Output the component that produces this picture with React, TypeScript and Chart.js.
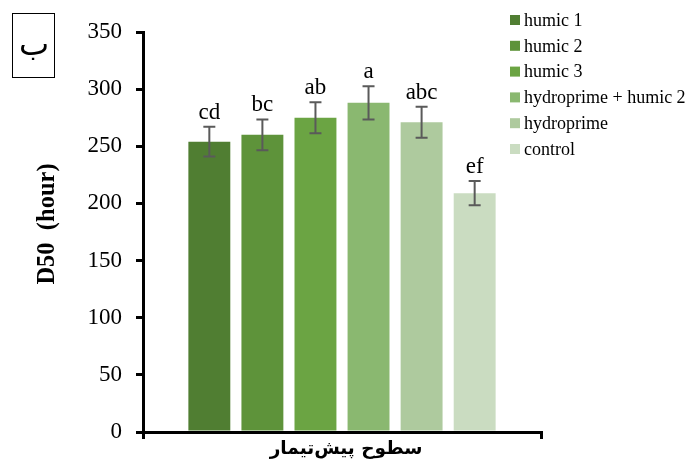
import React, { useEffect, useRef } from "react";
import { Chart, registerables } from "chart.js";

Chart.register(...registerables);

const seriesNames = ["humic 1", "humic 2", "humic 3", "hydroprime + humic 2", "hydroprime", "control"];
const values = [254, 260, 275, 288, 271, 209];
const errors = [13, 13.5, 13.5, 14.5, 13.5, 10.7];
const letters = ["cd", "bc", "ab", "a", "abc", "ef"];
const colors = ["#507E32", "#5E933A", "#6BA443", "#8AB870", "#AECA9E", "#CADCC1"];
const yMin = 0;
const yMax = 350;
const yStep = 50;
const yTitle = "D50  (hour)";
const xTitle = "سطوح پیش‌تیمار";
const panelLabel = "ب";

const overlay = {
  id: "overlay",
  afterDatasetsDraw(chart: any) {
    const ctx = chart.ctx;
    const y = chart.scales.y;
    ctx.save();
    chart.data.datasets.forEach((ds: any, i: number) => {
      const meta = chart.getDatasetMeta(i);
      const bar = meta.data[0];
      if (!bar) return;
      const x = bar.x;
      const v = values[i];
      const e = errors[i];
      const top = y.getPixelForValue(v + e);
      const bot = y.getPixelForValue(v - e);
      ctx.strokeStyle = "#5a5a5a";
      ctx.lineWidth = 2;
      ctx.beginPath();
      ctx.moveTo(x, top);
      ctx.lineTo(x, bot);
      ctx.moveTo(x - 6, top);
      ctx.lineTo(x + 6, top);
      ctx.moveTo(x - 6, bot);
      ctx.lineTo(x + 6, bot);
      ctx.stroke();
      ctx.fillStyle = "#000";
      ctx.font = "23px 'Liberation Serif'";
      ctx.textAlign = "center";
      ctx.textBaseline = "alphabetic";
      ctx.fillText(letters[i], x, top - 8);
    });
    ctx.restore();
  },
  afterDraw(chart: any) {
    const ctx = chart.ctx;
    ctx.save();
    chart.data.datasets.forEach((ds: any, i: number) => {
      const cy = 20 + i * 25.8;
      ctx.fillStyle = ds.backgroundColor;
      ctx.fillRect(510, cy - 5, 10, 10);
      ctx.fillStyle = "#000";
      ctx.font = "18px 'Liberation Serif'";
      ctx.textAlign = "left";
      ctx.textBaseline = "middle";
      ctx.fillText(ds.label, 524, cy + 1);
    });
    ctx.strokeStyle = "#000";
    ctx.lineWidth = 1;
    ctx.strokeRect(12.5, 13.5, 42, 64);
    ctx.fillStyle = "#000";
    ctx.font = "32px 'DejaVu Sans'";
    ctx.textAlign = "center";
    ctx.textBaseline = "alphabetic";
    ctx.fillText(panelLabel, 34, 55);
    ctx.save();
    ctx.translate(48, 224);
    ctx.rotate(-Math.PI / 2);
    ctx.font = "bold 24.5px 'Liberation Serif'";
    ctx.textAlign = "center";
    ctx.textBaseline = "middle";
    ctx.fillText(yTitle, 0, 0);
    ctx.restore();
    ctx.font = "bold 18.5px 'DejaVu Sans'";
    ctx.textAlign = "center";
    ctx.textBaseline = "middle";
    ctx.fillText(xTitle, 346, 449);
    ctx.restore();
  },
};

export default function App() {
  const ref = useRef<HTMLCanvasElement | null>(null);
  useEffect(() => {
    if (!ref.current) return;
    const chart = new Chart(ref.current, {
      type: "bar",
      data: {
        labels: [""],
        datasets: seriesNames.map((name, i) => ({
          label: name,
          data: [values[i]],
          backgroundColor: colors[i],
          categoryPercentage: 0.8,
          barPercentage: 0.79,
        })),
      },
      options: {
        animation: false,
        responsive: false,
        devicePixelRatio: 1,
        layout: { padding: { top: 32, right: 151, left: 0, bottom: 0 } },
        plugins: { legend: { display: false }, tooltip: { enabled: false } },
        scales: {
          x: {
            grid: { offset: true, drawOnChartArea: false, drawTicks: true, tickLength: 7, color: "#000", lineWidth: 3 },
            border: { display: true, color: "#000", width: 3 },
            ticks: { display: false },
            afterFit: (s: any) => {
              s.height = 31;
            },
          },
          y: {
            min: yMin,
            max: yMax,
            ticks: { stepSize: yStep, color: "#000", font: { family: "'Liberation Serif'", size: 23 }, padding: 14 },
            grid: { drawOnChartArea: false, drawTicks: true, tickLength: 7, color: "#000", lineWidth: 3 },
            border: { display: true, color: "#000", width: 3 },
            afterFit: (s: any) => {
              s.width = 143;
            },
          },
        },
      },
      plugins: [overlay],
    } as any);
    return () => chart.destroy();
  }, []);
  return (
    <div style={{ position: "absolute", left: 0, top: 0, width: 692, height: 463, background: "#fff" }}>
      <canvas ref={ref} width={692} height={463} />
    </div>
  );
}
